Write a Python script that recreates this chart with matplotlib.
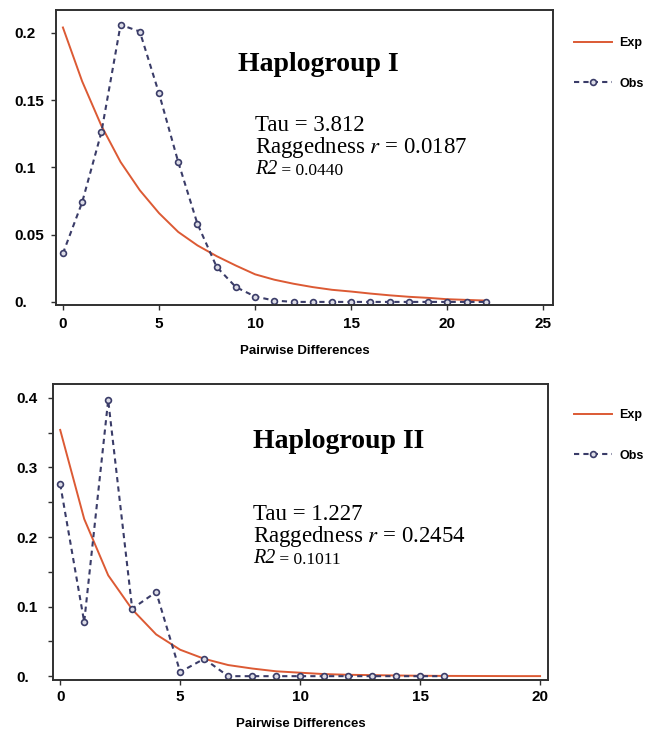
import matplotlib
matplotlib.use("Agg")
import matplotlib.pyplot as plt

plt.rcParams['mathtext.fontset'] = 'stix'

# ---------------- data ----------------
x1 = list(range(0, 23))
obs1 = [0.036, 0.074, 0.126, 0.206, 0.201, 0.155, 0.104, 0.058, 0.026, 0.011,
        0.004, 0.001, 0.0, 0.0, 0.0, 0.0, 0.0, 0.0, 0.0, 0.0, 0.0, 0.0, 0.0]
exp1 = [0.204, 0.164, 0.131, 0.104, 0.083, 0.066, 0.052, 0.042, 0.034, 0.027,
        0.0205, 0.0165, 0.0135, 0.011, 0.009, 0.0077, 0.0062, 0.0049, 0.0038,
        0.003, 0.002, 0.0015, 0.001]

x2_obs = list(range(0, 17))
obs2 = [0.276, 0.078, 0.397, 0.097, 0.121, 0.006, 0.025, 0.0, 0.0, 0.0,
        0.0, 0.0, 0.0, 0.0, 0.0, 0.0, 0.0]
x2_exp = list(range(0, 21))
exp2 = [0.354, 0.226, 0.145, 0.096, 0.060, 0.038, 0.025, 0.016, 0.011, 0.007,
        0.005, 0.003, 0.002, 0.0015, 0.001, 0.0006, 0.0004, 0.0003, 0.0002,
        0.0001, 0.0001]

xticks1 = [0, 5, 10, 15, 20, 25]
yticks1 = [0.0, 0.05, 0.1, 0.15, 0.2]
ylabels1 = ["0.", "0.05", "0.1", "0.15", "0.2"]
xticks2 = [0, 5, 10, 15, 20]
yticks2 = [0.0, 0.1, 0.2, 0.3, 0.4]
ylabels2 = ["0.", "0.1", "0.2", "0.3", "0.4"]
yminor2 = [0.05, 0.15, 0.25, 0.35]

titles = ["Haplogroup I", "Haplogroup II"]
taus = ["Tau = 3.812", "Tau = 1.227"]
rags = ["0.0187", "0.2454"]
r2s = ["0.0440", "0.1011"]

# ---------------- style ----------------
RED = "#dc5a34"
NAVY = "#3a3c68"
SPINE = "#303030"
W, H = 650, 733

fig = plt.figure(figsize=(6.5, 7.33), dpi=100)


def fx(px):
    return px / W


def fy(py):
    return 1 - py / H


def make_axes(left, top, right, bottom):
    return fig.add_axes([fx(left), fy(bottom), fx(right - left), (bottom - top) / H])


ax1 = make_axes(56, 10, 553, 305)
ax2 = make_axes(53, 384, 548, 680)

tickfont = dict(family="Liberation Sans", weight="bold", size=11)


def style(ax, xticks, yticks, ylabels, ypad, xpad):
    for s in ax.spines.values():
        s.set_color(SPINE)
        s.set_linewidth(1.4)
    ax.set_xticks(xticks)
    ax.set_xticklabels([str(t) for t in xticks], fontdict=tickfont)
    ax.set_yticks(yticks)
    ax.set_yticklabels(ylabels, fontdict=tickfont, ha="left")
    ax.tick_params(axis="y", direction="out", length=3.5, width=1, color=SPINE, pad=ypad)
    ax.tick_params(axis="x", direction="out", length=3.5, width=1, color=SPINE, pad=xpad)
    ax.set_xlabel("Pairwise Differences", family="Liberation Sans",
                  weight="bold", size=9.5, labelpad=10)


# ---- panel 1 ----
ax1.plot(x1, exp1, color=RED, lw=1.4, label="Exp")
ax1.plot(x1, obs1, color=NAVY, lw=1.5, ls=(0, (2.5, 2)),
         marker="o", ms=4.2, mfc="#dcdce6", mec=NAVY, mew=1.2, label="Obs")
ax1.set_xlim(-0.36, 25.5)
ax1.set_ylim(-0.0023, 0.217)
style(ax1, xticks1, yticks1, ylabels1, 26.2, 5)

# ---- panel 2 ----
ax2.plot(x2_exp, exp2, color=RED, lw=1.4, label="Exp")
ax2.plot(x2_obs, obs2, color=NAVY, lw=1.5, ls=(0, (2.5, 2)),
         marker="o", ms=4.2, mfc="#dcdce6", mec=NAVY, mew=1.2, label="Obs")
ax2.set_xlim(-0.3, 20.33)
ax2.set_ylim(-0.0055, 0.42)
style(ax2, xticks2, yticks2, ylabels2, 22.6, 4)
ax2.set_yticks(yminor2, minor=True)
ax2.tick_params(axis="y", which="minor", direction="out", length=3.5, width=1, color=SPINE)

# ---- legends ----
for ax, ytop in [(ax1, 37), (ax2, 409)]:
    ax.legend(loc="upper left", bbox_to_anchor=(fx(574), fy(ytop)),
              bbox_transform=fig.transFigure, frameon=False, borderpad=0,
              borderaxespad=0, handlelength=3.0, handletextpad=0.6,
              labelspacing=2.3,
              prop=dict(family="Liberation Sans", weight="bold", size=9))

# ---- annotations ----
serif = "Liberation Serif"
positions = [(238, 71, 255, 131), (253, 448, 253, 520)]
for i, (tx, ty, tl, tr) in enumerate(positions):
    ax = [ax1, ax2][i]
    fig.text(fx(tx), fy(ty), titles[i], family=serif, weight="bold",
             size=20, va="baseline", ha="left")
    fig.text(fx(tl), fy(tr), taus[i], family=serif, size=16.5,
             va="baseline", ha="left")
    fig.text(fx(tl), fy(tr + 22), "Raggedness $\\mathit{r}$ = " + rags[i],
             family=serif, size=16.5, va="baseline", ha="left")
    t = fig.text(fx(tl), fy(tr + 43), "R2", family=serif, style="italic",
                 size=14.5, va="baseline", ha="left")
    ax.annotate(" = " + r2s[i], xy=(1, 0), xycoords=t, xytext=(0, 0),
                textcoords="offset points", family=serif, size=12.5,
                va="bottom", ha="left", annotation_clip=False)

fig.savefig("out.png", dpi=100)
